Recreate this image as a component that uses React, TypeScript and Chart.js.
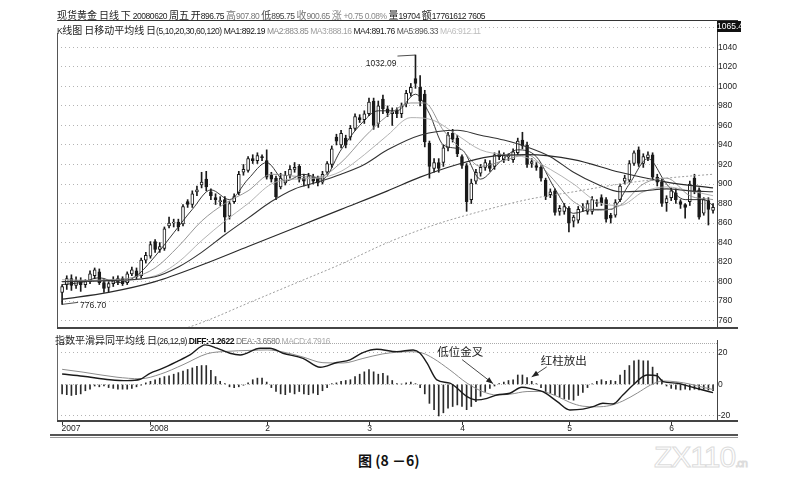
import React, { useEffect, useRef } from "react";
import { Chart, registerables } from "chart.js";

Chart.register(...registerables);

// ---------- Candles (daily spot gold) ----------
const opens = [
  789, 797, 803, 796, 801, 797, 800, 806, 810, 799,
  794, 798, 800, 803, 799, 808, 811, 806, 822, 826,
  841, 833, 834, 857, 860, 861, 859, 882, 879, 892,
  899, 905, 892, 886, 882, 884, 867, 882, 891, 912,
  914, 926, 924, 928, 924, 909, 906, 897, 901, 909,
  915, 918, 906, 899, 907, 906, 902, 912, 920, 948,
  940, 947, 948, 957, 968, 966, 972, 985, 962, 987,
  977, 972, 975, 972, 982, 993, 1008, 999, 992, 942,
  916, 922, 922, 937, 952, 947, 928, 919, 884, 903,
  911, 917, 921, 918, 931, 925, 928, 925, 932, 945,
  940, 921, 919, 917, 904, 889, 893, 872, 872, 875,
  862, 863, 876, 872, 872, 880, 886, 884, 868, 868,
  884, 903, 904, 921, 935, 921, 927, 930, 907, 902,
  881, 886, 891, 882, 879, 882, 906, 894, 870, 883,
  873,
];
const highs = [
  797, 806, 807, 805, 804, 802, 811, 814, 813, 802,
  800, 805, 806, 805, 810, 815, 814, 824, 830, 841,
  843, 840, 856, 866, 864, 864, 879, 884, 893, 898,
  912, 913, 895, 890, 887, 887, 882, 890, 913, 920,
  928, 930, 932, 930, 935, 912, 908, 911, 913, 919,
  922, 920, 910, 911, 910, 908, 913, 923, 939, 951,
  955, 950, 960, 972, 971, 975, 988, 988, 985, 991,
  980, 978, 978, 983, 996, 1003, 1032.09, 1011, 996, 944,
  926, 926, 940, 953, 956, 950, 930, 921, 905, 915,
  920, 925, 924, 932, 934, 932, 931, 936, 947, 953,
  943, 926, 922, 919, 906, 895, 895, 878, 880, 877,
  868, 877, 880, 883, 887, 884, 889, 886, 870, 884,
  900, 909, 924, 934, 938, 931, 933, 932, 910, 905,
  888, 896, 895, 884, 880, 903, 910, 896, 886, 886,
  880,
];
const lows = [
  776.7, 792, 791, 793, 790, 794, 798, 803, 797, 789,
  789, 795, 797, 796, 797, 806, 803, 804, 819, 824,
  830, 830, 832, 855, 856, 852, 857, 876, 876, 888,
  896, 893, 884, 879, 878, 851, 864, 880, 889, 909,
  912, 921, 921, 924, 905, 902, 884, 895, 899, 906,
  912, 902, 898, 896, 900, 898, 900, 910, 917, 940,
  937, 937, 945, 955, 963, 962, 970, 956, 958, 972,
  969, 960, 968, 968, 979, 990, 998, 980, 938, 906,
  912, 912, 918, 934, 943, 928, 916, 872, 880, 900,
  908, 914, 913, 915, 925, 922, 924, 922, 930, 936,
  917, 917, 914, 903, 884, 886, 868, 868, 869, 851,
  856, 860, 872, 869, 869, 877, 878, 861, 860, 866,
  882, 900, 902, 919, 918, 917, 924, 904, 898, 877,
  872, 883, 880, 875, 865, 878, 890, 864, 868, 858,
  870,
];
const closes = [
  795, 803, 796, 801, 797, 800, 808, 812, 799, 793,
  798, 801, 803, 798, 808, 812, 805, 822, 827, 838,
  833, 836, 854, 860, 861, 856, 877, 879, 890, 894,
  902, 897, 888, 884, 883, 866, 880, 887, 910, 915,
  926, 924, 929, 927, 907, 905, 887, 906, 909, 915,
  917, 905, 903, 908, 903, 901, 910, 921, 936, 944,
  952, 940, 957, 969, 966, 972, 984, 960, 980, 977,
  973, 974, 972, 980, 993, 999, 1003, 985, 943, 918,
  922, 916, 937, 950, 946, 931, 919, 882, 901, 912,
  917, 922, 916, 930, 928, 929, 929, 933, 944, 939,
  920, 923, 917, 906, 887, 892, 871, 875, 877, 860,
  866, 874, 877, 880, 884, 881, 881, 864, 865, 881,
  898, 906, 921, 932, 921, 928, 930, 907, 902, 880,
  885, 893, 884, 879, 876, 900, 892, 866, 884, 874,
  876,
];

// ---------- Moving averages: [bar index, value] ----------
const ma5Pts: [number, number][] = [
  [0, 797], [4, 799], [8, 804], [12, 799], [16, 806], [20, 826], [24, 850], [28, 874],
  [32, 894], [36, 884], [40, 905], [44, 922], [48, 903], [52, 910], [56, 905], [60, 935],
  [64, 960], [68, 975], [72, 975], [76, 992], [79, 972], [82, 940], [86, 935], [90, 905],
  [94, 922], [98, 935], [102, 928], [106, 895], [110, 870], [114, 874], [118, 874],
  [122, 900], [126, 926], [130, 900], [134, 884], [138, 884], [140, 878],
];
const ma10Pts: [number, number][] = [
  [0, 800], [5, 801], [10, 802], [15, 804], [20, 814], [25, 836], [30, 862], [35, 880],
  [40, 893], [45, 910], [50, 908], [55, 907], [60, 922], [65, 948], [70, 970], [75, 983],
  [78, 983], [82, 955], [86, 935], [90, 918], [95, 924], [100, 930], [105, 908], [110, 882],
  [115, 873], [120, 878], [125, 900], [130, 906], [135, 888], [140, 884],
];
const ma20Pts: [number, number][] = [
  [0, 802], [10, 801], [20, 806], [25, 820], [30, 842], [35, 862], [40, 880], [45, 900],
  [50, 905], [55, 906], [60, 913], [65, 930], [70, 950], [75, 968], [80, 965], [85, 950],
  [90, 935], [95, 930], [100, 927], [105, 915], [110, 900], [115, 882], [120, 878],
  [125, 892], [130, 897], [135, 893], [140, 888],
];
const ma30Pts: [number, number][] = [
  [0, 800], [10, 801], [20, 805], [25, 815], [30, 830], [35, 848], [40, 865], [45, 882],
  [50, 895], [55, 902], [60, 910], [65, 920], [70, 935], [77, 950], [85, 955], [90, 950],
  [95, 945], [100, 938], [105, 928], [110, 912], [115, 900], [120, 892], [125, 893],
  [130, 895], [135, 893], [140, 892],
];
const ma60Pts: [number, number][] = [
  [0, 782], [10, 789], [20, 800], [30, 817], [40, 836], [50, 855], [60, 874], [70, 893],
  [77, 907], [85, 920], [92, 928], [100, 930], [110, 925], [120, 912], [130, 902], [140, 896],
];
const ma120Pts: [number, number][] = [
  [0, 712], [15, 735], [30, 758], [40, 778], [50, 798], [60, 818], [70, 840], [80, 858],
  [90, 872], [100, 884], [110, 892], [120, 900], [130, 906], [140, 910],
];

// ---------- MACD ----------
const macdHist = [
  -6, -6.5, -7, -6.5, -6, -4, -3, -1, -1.5, -1,
  -2, -2.5, -3, -3, -3, -2.5, -1.5, -0.5, 1, 2,
  3, 4, 5, 5.5, 6.5, 7.5, 8.5, 9.5, 10.5, 11.5,
  12, 12, 9, 5, 2, 0.5, -1.5, -2, -1.5, -0.5,
  1, 3, 4, 4, 1.5, -2, -4.5, -6, -6.5, -5,
  -6, -4.5, -6, -6.5, -5.5, -6.5, -4, -2, 0.5, 1,
  2, 2.5, 3, 5, 6.5, 8, 9.5, 8, 6.5, 7,
  5.5, 2.5, 0.5, 0.3, 1, 1.5, 0.5, -2, -6, -12,
  -16, -20, -18, -15, -14, -13, -14, -16, -14, -11,
  -7.5, -4.5, -2.5, -1, 0.5, 1.5, 2.5, 3, 6, 6,
  4.4, 2, 0.5, -2, -4.5, -5.5, -6.5, -8, -9, -9.5,
  -10, -7, -5, -2, 0.3, 2, 3, 2, 2.5, 2,
  6, 9, 12, 15, 15.5, 15, 15, 11, 7, 3,
  -1, -2.5, -3, -3.5, -3, -3.5, -3, -3.5, -3, -3.5,
  -4,
];
const diffPts: [number, number][] = [
  [0, 6.6], [4.5, 5.2], [10.3, 3], [14, 2.4], [16.8, 3.3], [18.9, 7.1], [21.7, 10.3],
  [24.7, 14.5], [27.5, 18.7], [30.8, 25.1], [33.3, 23], [36.1, 19.8], [38.3, 18.7],
  [42.6, 23], [44.7, 23], [47.5, 19.8], [51.8, 16.6], [55.5, 10.9], [59.1, 13.9],
  [61.9, 15.6], [64.7, 20.2], [67.7, 22.3], [72, 20.8], [75.5, 21.9], [77, 19.8],
  [78.5, 13.5], [80.6, 2.9], [83.4, 0.8], [87.1, -7.7], [89.2, -9.8], [91.4, -8.8],
  [93.5, -6.7], [96.3, -5.6], [98.9, -1.8], [101.3, -3], [103.4, -4.6], [106.5, -10.9],
  [109.2, -16.2], [112, -15.7], [114.2, -14.1], [116.3, -11.9], [118.5, -12.4],
  [120.6, -6.7], [122.8, -0.3], [125.8, 6], [128, 5.4], [129.2, 1.8], [132.3, 0.8],
  [135.1, -1.4], [137.8, -3.5], [140, -5.2],
];
const deaPts: [number, number][] = [
  [0, 9.6], [4.5, 7.8], [11.8, 4.6], [16.8, 3.6], [21.1, 6.5], [26, 12.5], [31.2, 19.5],
  [35.5, 21], [40.4, 21.6], [44.1, 21.9], [47.5, 20.6], [51.8, 17.4], [56.1, 13.8],
  [60.4, 13.6], [64.7, 16.5], [69, 19.4], [74.8, 20.8], [77.6, 19.8], [79.8, 16.6],
  [83.4, 9.2], [87.1, 0.8], [90.5, -4.6], [93.5, -6.7], [96.3, -6.2], [100, -4.5],
  [102.8, -4.4], [106.5, -7.6], [109.2, -11.4], [112, -13.8], [115, -14.2],
  [117.8, -13.4], [120.6, -10.5], [123.7, -5.5], [126.5, -0.5], [129.2, 2.2],
  [132.3, 1.6], [135.1, 0.2], [137.8, -1.8], [140, -3.2],
];

// ---------- Axes / labels ----------
const monthTickIdx = [0, 19, 44, 66, 86, 109, 131];
const monthLabels = ["2007", "2008", "2", "3", "4", "5", "6"];
const priceTicks = [760, 780, 800, 820, 840, 860, 880, 900, 920, 940, 960, 980, 1000, 1020, 1040, 1060];
const macdTicks = [-20, 0, 20];
const axisTopLabel = "1065.4";
const crossNote = "低位金叉";
const redNote = "红柱放出";
const crossAnchor: [number, number] = [92.7, 0.5];
const redAnchor: [number, number] = [101, 4.8];

const header1: [string, string, boolean?][] = [
  ["现货黄金 日线 下 20080620 周五 开896.75 ", "#222"],
  ["高907.80 ", "#777"],
  ["低895.75 ", "#444"],
  ["收900.65 ", "#777"],
  ["涨 +0.75 0.08% ", "#888"],
  ["量19704 额17761612 7605", "#222"],
];
const header2: [string, string, boolean?][] = [
  ["K线图 日移动平均线 日(5,10,20,30,60,120) ", "#222"],
  ["MA1:892.19 ", "#111"],
  ["MA2:883.85 ", "#8a8a8a"],
  ["MA3:888.16 ", "#a0a0a0"],
  ["MA4:891.76 ", "#222"],
  ["MA5:896.33 ", "#555"],
  ["MA6:912.11", "#bdbdbd"],
];
const header3: [string, string, boolean?][] = [
  ["指数平滑异同平均线 日(26,12,9) ", "#222"],
  ["DIFF:-1.2622 ", "#111", true],
  ["DEA:-3.6580 ", "#777"],
  ["MACD:4.7916", "#aaa"],
];

const X_MIN = -1.1;
const X_MAX = 140.85;
const NUM_FONT = "'Liberation Sans', Arial, sans-serif";

const CJK_RE = /[\u3000-\u9fff\uff00-\uffef]/;
function Mixed({ text }: { text: string }) {
  const parts = text.split(/([\u3000-\u9fff\uff00-\uffef]+)/).filter((p) => p.length > 0);
  return (
    <>
      {parts.map((p, k) =>
        CJK_RE.test(p) ? (
          <span key={k} style={{ fontSize: 10 }}>{p}</span>
        ) : (
          <span key={k} style={{ fontSize: 8.5, letterSpacing: -0.45, fontFamily: NUM_FONT }}>{p}</span>
        )
      )}
    </>
  );
}

function Header({ segs, left, top, bg }: { segs: [string, string, boolean?][]; left: number; top: number; bg?: string }) {
  return (
    <div
      style={{
        position: "absolute", left, top, height: 12, lineHeight: "12px", whiteSpace: "pre",
        fontFamily: "'Noto Sans CJK SC', sans-serif", background: bg || "transparent", zIndex: 3,
      }}
    >
      {segs.map(([t, c, b], k) => (
        <span key={k} style={{ color: c, fontWeight: b ? 700 : 400 }}>
          <Mixed text={t} />
        </span>
      ))}
    </div>
  );
}

function lineDs(pts: [number, number][], color: string, width: number, dash?: number[]) {
  return {
    type: "line" as const,
    data: pts.map(([x, y]) => ({ x, y })),
    borderColor: color,
    borderWidth: width,
    borderDash: dash || [],
    pointRadius: 0,
    cubicInterpolationMode: "monotone" as const,
    fill: false,
    order: 1,
  };
}

function drawArrow(ctx: CanvasRenderingContext2D, x1: number, y1: number, x2: number, y2: number) {
  ctx.beginPath();
  ctx.moveTo(x1, y1);
  ctx.lineTo(x2, y2);
  ctx.stroke();
  const a = Math.atan2(y2 - y1, x2 - x1);
  const L = 7, W = 2.8;
  ctx.beginPath();
  ctx.moveTo(x2, y2);
  ctx.lineTo(x2 - L * Math.cos(a) + W * Math.sin(a), y2 - L * Math.sin(a) - W * Math.cos(a));
  ctx.lineTo(x2 - L * Math.cos(a) - W * Math.sin(a), y2 - L * Math.sin(a) + W * Math.cos(a));
  ctx.closePath();
  ctx.fill();
}

export default function App() {
  const priceRef = useRef<HTMLCanvasElement | null>(null);
  const macdRef = useRef<HTMLCanvasElement | null>(null);

  useEffect(() => {
    const idx = opens.map((_, i) => i);
    const peakIdx = highs.indexOf(Math.max(...highs));
    const lowIdx = lows.indexOf(Math.min(...lows));

    const priceNotes = {
      id: "priceNotes",
      afterDatasetsDraw(chart: any) {
        const { ctx } = chart;
        const xs = chart.scales.x, ys = chart.scales.y;
        ctx.save();
        ctx.strokeStyle = "#222";
        ctx.fillStyle = "#222";
        ctx.lineWidth = 0.8;
        ctx.font = `8.5px ${NUM_FONT}`;
        ctx.textBaseline = "middle";
        const px = xs.getPixelForValue(peakIdx), py = ys.getPixelForValue(highs[peakIdx]);
        ctx.beginPath();
        ctx.moveTo(px, py);
        ctx.lineTo(px - 18, py + 1);
        ctx.stroke();
        ctx.textAlign = "right";
        ctx.fillText(highs[peakIdx].toFixed(2), px - 19, py + 9);
        const lx = xs.getPixelForValue(lowIdx), ly = ys.getPixelForValue(lows[lowIdx]);
        ctx.beginPath();
        ctx.moveTo(lx, ly);
        ctx.lineTo(lx + 16, ly - 2);
        ctx.stroke();
        ctx.textAlign = "left";
        ctx.fillText(lows[lowIdx].toFixed(2), lx + 18, ly + 1);
        ctx.restore();
      },
    };

    const price = new Chart(priceRef.current as HTMLCanvasElement, {
      type: "bar",
      data: {
        datasets: [
          lineDs(ma120Pts, "#9c9c9c", 1, [2, 2]),
          lineDs(ma60Pts, "#2a2a2a", 1.2),
          lineDs(ma30Pts, "#333", 1.1),
          lineDs(ma20Pts, "#aaa", 0.9),
          lineDs(ma10Pts, "#8a8a8a", 0.9),
          lineDs(ma5Pts, "#222", 0.9),
          {
            type: "bar",
            data: idx.map((i) => ({ x: i, y: [lows[i], highs[i]] })),
            backgroundColor: "#1a1a1a",
            borderWidth: 0,
            barThickness: 1,
            grouped: false,
            order: 3,
          } as any,
          {
            type: "bar",
            data: idx.map((i) => ({ x: i, y: [opens[i], closes[i]] })),
            backgroundColor: idx.map((i) => (closes[i] >= opens[i] ? "#ffffff" : "#1a1a1a")),
            borderColor: "#1a1a1a",
            borderWidth: 1,
            borderSkipped: false,
            barThickness: 3,
            grouped: false,
            order: 2,
          } as any,
        ],
      },
      options: {
        responsive: false,
        animation: false,
        events: [],
        layout: { padding: { left: 57, right: 46, top: 20, bottom: 6 } },
        plugins: { legend: { display: false }, tooltip: { enabled: false } },
        scales: {
          x: { type: "linear", min: X_MIN, max: X_MAX, display: false, offset: false, grid: { offset: false } },
          y: {
            position: "right",
            min: 752.6,
            max: 1068,
            afterBuildTicks: (s: any) => {
              s.ticks = priceTicks.map((v) => ({ value: v }));
            },
            afterFit: (s: any) => {
              s.width = 30;
            },
            grid: { color: "#b4b4b4", lineWidth: 1, drawTicks: false },
            border: { display: false, dash: [1, 3] },
            ticks: {
              padding: 1,
              color: "#222",
              font: { family: NUM_FONT, size: 8.5 },
              callback: (v: any) => (Number(v) === 1060 ? "" : String(v)),
            },
          },
        },
      } as any,
      plugins: [priceNotes],
    });

    const macdNotes = {
      id: "macdNotes",
      afterDatasetsDraw(chart: any) {
        const { ctx, chartArea } = chart;
        const xs = chart.scales.x, ys = chart.scales.y;
        ctx.save();
        // x-axis tick marks and labels
        ctx.strokeStyle = "#333";
        ctx.fillStyle = "#222";
        ctx.lineWidth = 1;
        ctx.font = `8.5px ${NUM_FONT}`;
        ctx.textBaseline = "middle";
        monthTickIdx.forEach((t, k) => {
          const px = Math.round(xs.getPixelForValue(t)) + 0.5;
          ctx.beginPath();
          ctx.moveTo(px, chartArea.bottom);
          ctx.lineTo(px, chartArea.bottom + 4);
          ctx.stroke();
          const lab = monthLabels[k];
          if (lab.length > 2) {
            ctx.textAlign = "left";
            ctx.fillText(lab, px - 1, chartArea.bottom + 8);
          } else {
            ctx.textAlign = "center";
            ctx.fillText(lab, px, chartArea.bottom + 8);
          }
        });
        // annotations
        ctx.font = "11.5px 'Noto Sans CJK SC', sans-serif";
        ctx.lineWidth = 0.9;
        const t1x = xs.getPixelForValue(crossAnchor[0]), t1y = ys.getPixelForValue(crossAnchor[1]);
        ctx.textAlign = "left";
        ctx.fillText(crossNote, t1x - 56, t1y - 32);
        drawArrow(ctx, t1x - 31, t1y - 24, t1x, t1y);
        const t2x = xs.getPixelForValue(redAnchor[0]), t2y = ys.getPixelForValue(redAnchor[1]);
        ctx.fillText(redNote, t2x + 9, t2y - 16);
        drawArrow(ctx, t2x + 15, t2y - 10, t2x, t2y);
        ctx.restore();
      },
    };

    const macd = new Chart(macdRef.current as HTMLCanvasElement, {
      type: "bar",
      data: {
        datasets: [
          lineDs(diffPts, "#1a1a1a", 1.4),
          { ...lineDs(deaPts, "#8c8c8c", 1), order: 1 },
          {
            type: "bar",
            data: macdHist.map((v, i) => ({ x: i, y: v })),
            backgroundColor: "#2a2a2a",
            borderWidth: 0,
            barThickness: 1,
            grouped: false,
            order: 3,
          } as any,
        ],
      },
      options: {
        responsive: false,
        animation: false,
        events: [],
        layout: { padding: { left: 57, right: 46, top: 13, bottom: 19 } },
        plugins: { legend: { display: false }, tooltip: { enabled: false } },
        scales: {
          x: { type: "linear", min: X_MIN, max: X_MAX, display: false, offset: false, grid: { offset: false } },
          y: {
            position: "right",
            min: -23.2,
            max: 26.3,
            afterBuildTicks: (s: any) => {
              s.ticks = macdTicks.map((v) => ({ value: v }));
            },
            afterFit: (s: any) => {
              s.width = 30;
            },
            grid: { color: "#b4b4b4", lineWidth: 1, drawTicks: false },
            border: { display: false, dash: [1, 3] },
            ticks: { padding: 1, color: "#222", font: { family: NUM_FONT, size: 8.5 }, callback: (v: any) => String(v) },
          },
        },
      } as any,
      plugins: [macdNotes],
    });

    return () => {
      price.destroy();
      macd.destroy();
    };
  }, []);

  const line = (left: number, top: number, width: number, height: number, bg: string, extra?: any) => (
    <div style={{ position: "absolute", left, top, width, height, background: bg, zIndex: 2, ...(extra || {}) }} />
  );

  return (
    <div style={{ position: "absolute", left: 0, top: 0, width: 793, height: 481, background: "#fff", overflow: "hidden" }}>
      <canvas ref={priceRef} width={793} height={334} style={{ position: "absolute", left: 0, top: 0, zIndex: 1 }} />
      <canvas ref={macdRef} width={793} height={110} style={{ position: "absolute", left: 0, top: 330, zIndex: 1 }} />

      {/* frames */}
      {line(57, 20, 681, 1, "#333")}
      {line(57, 20, 1, 308, "#555")}
      {line(717, 20, 1, 308, "#444")}
      {line(57, 327, 681, 2, "#444")}
      {line(57, 343, 1, 78, "#666")}
      {line(717, 340, 1, 81, "#444")}
      {line(57, 343, 660, 0, "transparent", { borderTop: "1px dotted #aaa" })}
      {line(57, 420, 681, 2, "#444")}
      {line(50, 434, 688, 2, "#555")}
      {line(50, 437, 688, 1, "#999")}

      <Header segs={header1} left={57} top={6} />
      <Header segs={header2} left={57} top={21} bg="#fff" />
      <Header segs={header3} left={55} top={331} bg="#fff" />

      <div
        style={{
          position: "absolute", left: 717, top: 21, width: 24, height: 11, background: "#111", color: "#fff",
          fontFamily: NUM_FONT, fontSize: 8.5, lineHeight: "11px", textAlign: "center", zIndex: 3,
        }}
      >
        {axisTopLabel}
      </div>

      <div
        style={{
          position: "absolute", left: 358, top: 450, fontFamily: "'Noto Sans CJK SC', sans-serif", fontSize: 14,
          fontWeight: 700, color: "#111", whiteSpace: "pre", lineHeight: "20px",
        }}
      >
        {"图 (8 －6)"}
      </div>

      <div
        style={{
          position: "absolute", left: 654, top: 440, fontFamily: NUM_FONT, fontSize: 30, letterSpacing: -1,
          color: "transparent", WebkitTextStroke: "1px #dcdcdc", whiteSpace: "pre", lineHeight: "34px",
        }}
      >
        ZX110<span style={{ fontSize: 11 }}>.cn</span>
      </div>
    </div>
  );
}
